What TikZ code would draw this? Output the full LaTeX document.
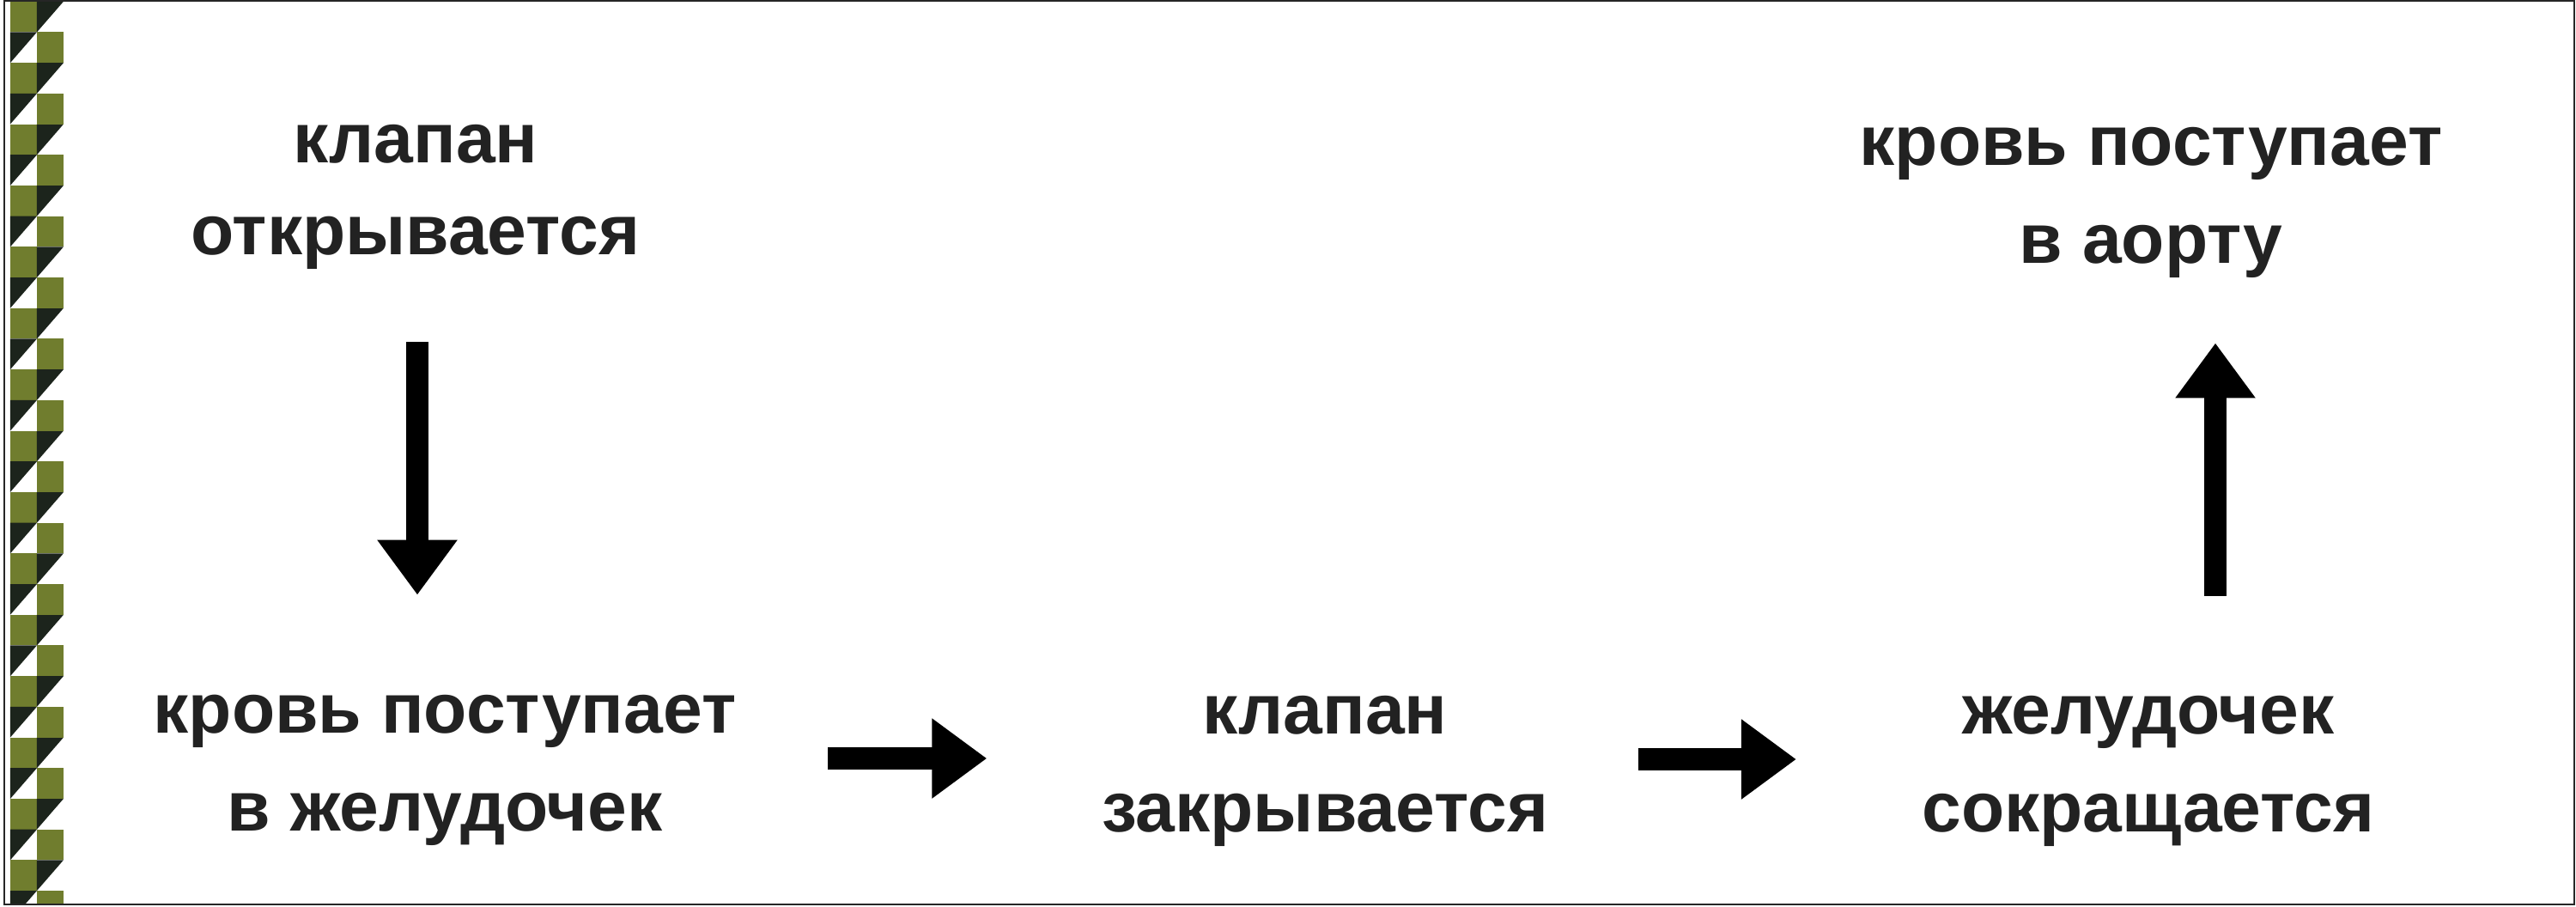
\documentclass[tikz,border=0pt]{standalone}
\usepackage{fontspec}
\setmainfont{Liberation Sans}
\usetikzlibrary{arrows.meta}
\definecolor{stripolive}{RGB}{112,125,46}
\definecolor{stripdark}{RGB}{28,36,28}
\definecolor{textgray}{RGB}{34,34,34}
\tikzset{
    stage/.style={align=center, inner sep=0pt, text=textgray,
        font=\fontsize{23.4pt}{32.4pt}\selectfont\bfseries},
    flow/.style={line width=0.26cm, black, -{Triangle[width=0.89cm,length=0.64cm]}}
}
\begin{document}
\begin{tikzpicture}
        \useasboundingbox (0,0) rectangle (30,10.55);
        % checkered strip on the left
        \begin{scope}
            \clip (0,0.02) rectangle (1,10.54);
            \foreach \i [evaluate=\i as \y using 10.533-0.357*\i] in {0,2,...,28}{
                \fill[stripolive] (0.12,\y) rectangle ++(0.31,-0.357);
                \fill[stripdark] (0.43,\y) -- ++(0.31,0) -- ++(-0.31,-0.357) -- cycle;
            }
            \foreach \i [evaluate=\i as \y using 10.533-0.357*\i] in {1,3,...,29}{
                \fill[stripdark] (0.12,\y) -- ++(0.31,0) -- ++(-0.31,-0.357) -- cycle;
                \fill[stripolive] (0.43,\y) rectangle ++(0.31,-0.357);
            }
        \end{scope}
        \draw[line width=0.015cm, black!85] (0.05,0.02) rectangle (29.98,10.54);
        % stages
        \node[stage, font=\fontsize{23.4pt}{30.4pt}\selectfont\bfseries] (open) at (4.84,8.26) {клапан\\открывается};
        \node[stage] (inflow) at (5.18,1.58) {кровь поступает\\в желудочек};
        \node[stage] (close) at (15.43,1.57) {клапан\\закрывается};
        \node[stage] (contract) at (25.02,1.57) {желудочек\\сокращается};
        \node[stage] (aorta) at (25.05,8.19) {кровь поступает\\в аорту};
        % arrows
        \draw[flow, shorten <=0.84cm, shorten >=1.16cm] ([xshift=0.02cm]open.south) -- ([xshift=0.02cm]open.south |- inflow.north);
        \draw[flow, shorten <=1.06cm, shorten >=1.33cm] ([yshift=0.14cm]inflow.east) -- ([yshift=0.14cm]inflow.east -| close.west);
        \draw[flow, shorten <=1.04cm, shorten >=1.46cm] ([yshift=0.14cm]close.east) -- ([yshift=0.14cm]close.east -| contract.west);
        \draw[flow, shorten <=1.16cm, shorten >=0.75cm] ([xshift=0.78cm]contract.north) -- ([xshift=0.78cm]contract.north |- aorta.south);
\end{tikzpicture}
\end{document}
